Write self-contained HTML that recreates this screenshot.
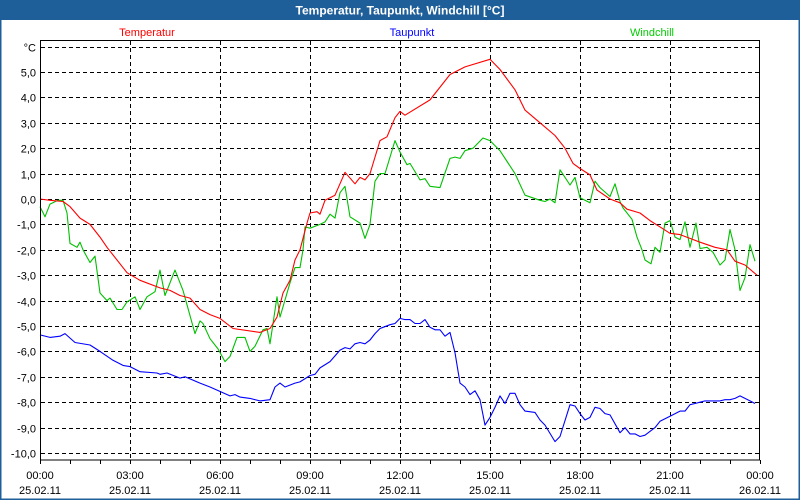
<!DOCTYPE html>
<html><head><meta charset="utf-8"><style>
html,body{margin:0;padding:0;background:#fff}
svg{display:block;font-family:"Liberation Sans",sans-serif}
</style></head><body>
<svg id="chart" width="800" height="500" viewBox="0 0 800 500" xmlns="http://www.w3.org/2000/svg">
<rect x="0" y="0" width="800" height="500" fill="#fff"/>
<rect x="0.5" y="0.5" width="799" height="499" fill="none" stroke="#1f5f99" stroke-width="2"/>
<rect x="0" y="0" width="800" height="20" fill="#1f5f99"/>
<text x="400" y="14.5" text-anchor="middle" fill="#fff" font-weight="bold" font-size="12">Temperatur, Taupunkt, Windchill [°C]</text>
<text x="147" y="36" text-anchor="middle" fill="#ff0000" font-size="11">Temperatur</text>
<text x="412" y="36" text-anchor="middle" fill="#0000ff" font-size="11">Taupunkt</text>
<text x="652" y="36" text-anchor="middle" fill="#00cc00" font-size="11">Windchill</text>
<g id="grid"></g>
<g id="series"></g>
<rect x="40.5" y="40.5" width="719" height="419.5" fill="none" stroke="#000" stroke-width="1"/>
<g id="axes"></g>
</svg>
<script>
const yTicks = [6,5,4,3,2,1,0,-1,-2,-3,-4,-5,-6,-7,-8,-9,-10];
const yTickLabels = ["°C","5,0","4,0","3,0","2,0","1,0","0,0","-1,0","-2,0","-3,0","-4,0","-5,0","-6,0","-7,0","-8,0","-9,0","-10,0"];
const xTickMinutes = [0,180,360,540,720,900,1080,1260,1440];
const xTimeLabels = ["00:00","03:00","06:00","09:00","12:00","15:00","18:00","21:00","00:00"];
const xDateLabels = ["25.02.11","25.02.11","25.02.11","25.02.11","25.02.11","25.02.11","25.02.11","25.02.11","26.02.11"];

const tempMinutes = [0,20,46,60,80,100,120,134,174,200,240,260,280,300,320,340,360,386,440,460,474,486,500,510,520,534,540,554,560,570,590,610,630,640,650,660,680,694,710,720,730,780,820,850,900,920,950,970,1000,1030,1050,1066,1080,1100,1114,1140,1160,1174,1200,1220,1244,1260,1280,1300,1320,1350,1374,1390,1410,1434];
const tempValues = [0,-0.05,-0.1,-0.3,-0.75,-1.0,-1.5,-1.9,-2.9,-3.2,-3.5,-3.6,-3.8,-3.9,-4.35,-4.55,-4.7,-5.1,-5.25,-5.1,-4.65,-3.7,-3.2,-2.4,-2.0,-0.95,-0.55,-0.5,-0.6,-0.05,0.15,1.05,0.6,0.85,0.75,1.0,2.3,2.45,3.2,3.45,3.3,3.9,4.9,5.2,5.5,5.1,4.3,3.5,3.0,2.5,2.0,1.4,1.2,0.95,0.35,0.0,-0.15,-0.4,-0.55,-0.85,-1.15,-1.35,-1.4,-1.55,-1.7,-1.9,-2.0,-2.45,-2.6,-3.0];

const chillMinutes = [0,10,20,36,46,54,60,74,80,86,100,110,120,134,140,154,164,174,190,200,214,230,240,250,270,286,310,320,326,340,356,370,380,394,410,420,430,446,454,460,474,480,500,510,520,526,530,540,560,570,580,590,600,610,620,640,650,660,670,680,690,710,720,734,740,760,770,780,800,820,830,840,850,866,886,900,920,950,970,1000,1010,1020,1030,1040,1060,1070,1080,1100,1110,1120,1140,1150,1160,1166,1184,1194,1204,1210,1222,1230,1240,1250,1260,1270,1280,1290,1300,1312,1320,1334,1346,1360,1370,1380,1390,1400,1410,1420,1430];
const chillValues = [-0.3,-0.7,-0.2,-0.05,-0.05,-0.55,-1.75,-1.9,-1.7,-2.0,-2.5,-2.25,-3.7,-4.0,-3.9,-4.35,-4.35,-4.05,-3.85,-4.35,-3.85,-3.65,-2.8,-3.8,-2.8,-3.6,-5.3,-4.8,-4.9,-5.5,-5.9,-6.4,-6.2,-5.45,-5.45,-6.0,-5.8,-5.15,-5.1,-5.7,-3.85,-4.65,-3.3,-2.7,-2.7,-2.0,-1.1,-1.15,-1.0,-0.9,-0.6,-0.75,0.25,0.5,-0.7,-0.95,-1.55,-1.0,0.7,1.0,1.0,2.3,1.85,1.35,1.4,0.75,0.8,0.5,0.45,1.6,1.65,1.6,1.9,2.0,2.4,2.3,1.9,1.0,0.15,-0.05,-0.1,0,-0.15,1.15,0.55,0.85,0.05,-0.15,0.7,0.45,0.1,0.6,-0.1,-0.35,-0.8,-1.5,-2.0,-2.4,-2.55,-1.9,-2.1,-0.95,-0.85,-1.5,-1.6,-0.9,-1.9,-0.95,-1.95,-1.9,-2.1,-2.6,-2.4,-1.2,-2.0,-3.6,-3.1,-1.8,-2.45];

const dewMinutes = [0,20,40,50,70,100,120,146,166,180,200,234,240,254,280,290,320,340,380,390,400,420,440,460,470,480,490,510,520,540,550,560,580,600,610,620,630,640,650,660,670,680,700,710,720,730,740,750,760,770,780,790,800,810,820,830,840,850,860,870,880,890,900,910,920,930,940,950,960,970,990,1000,1010,1030,1040,1060,1070,1080,1090,1100,1110,1120,1130,1140,1160,1170,1180,1190,1200,1210,1230,1240,1260,1280,1290,1300,1310,1320,1330,1360,1370,1380,1390,1400,1410,1420,1430];
const dewValues = [-5.35,-5.45,-5.4,-5.3,-5.65,-5.75,-6.0,-6.35,-6.55,-6.6,-6.8,-6.85,-6.9,-6.85,-7.05,-7.0,-7.25,-7.4,-7.75,-7.7,-7.8,-7.85,-7.95,-7.9,-7.4,-7.25,-7.4,-7.25,-7.2,-6.95,-6.9,-6.65,-6.4,-5.95,-5.85,-5.9,-5.7,-5.65,-5.7,-5.55,-5.3,-5.1,-4.95,-4.9,-4.7,-4.75,-4.75,-4.9,-4.9,-4.75,-5.05,-5.15,-5.15,-5.4,-5.25,-6.05,-7.25,-7.4,-7.7,-7.55,-7.9,-8.9,-8.6,-8.2,-7.75,-8.05,-7.65,-7.65,-8.1,-8.35,-8.4,-8.7,-8.9,-9.55,-9.35,-8.1,-8.15,-8.45,-8.7,-8.6,-8.2,-8.25,-8.45,-8.5,-9.2,-9.0,-9.25,-9.25,-9.35,-9.3,-9.0,-8.75,-8.55,-8.35,-8.35,-8.1,-8.05,-8.0,-7.95,-7.95,-7.9,-7.9,-7.85,-7.75,-7.85,-7.95,-8.05];

const NS = "http://www.w3.org/2000/svg";
function xScale(m){ return 40 + m * 0.5; }
function yScale(v){ return 199 - v * 25.4; }
function mk(tag, attrs){ const e = document.createElementNS(NS, tag); for (const k in attrs) e.setAttribute(k, attrs[k]); return e; }

const grid = document.getElementById('grid');
const axes = document.getElementById('axes');
yTicks.forEach((v, i) => {
  const y = Math.round(yScale(v)) + 0.5;
  const l = mk('line', {x1: 41, x2: 759, y1: y, y2: y, stroke: '#000', 'stroke-dasharray': '4,3'});
  
  
  grid.appendChild(l);
  const t = mk('text', {x: 36, y: y + 4, 'text-anchor': 'end', 'font-size': 11, fill: '#000'});
  t.textContent = yTickLabels[i];
  
  
  axes.appendChild(t);
});
xTickMinutes.forEach((m, i) => {
  const x = Math.round(xScale(m)) + 0.5;
  if (i > 0 && i < xTickMinutes.length - 1) {
    const l = mk('line', {x1: x, x2: x, y1: 41, y2: 460, stroke: '#000', 'stroke-dasharray': '4,3'});
    
    
    grid.appendChild(l);
  }
  const t1 = mk('text', {x: xScale(m), y: 479, 'text-anchor': 'middle', 'font-size': 11, fill: '#000'});
  t1.textContent = xTimeLabels[i];
  
  
  axes.appendChild(t1);
  const t2 = mk('text', {x: xScale(m), y: 494, 'text-anchor': 'middle', 'font-size': 11, fill: '#000'});
  t2.textContent = xDateLabels[i];
  
  
  axes.appendChild(t2);
});
for (let h = 0; h <= 24; h++) {
  const x = Math.round(xScale(h * 60)) + 0.5;
  const l = mk('line', {x1: x, x2: x, y1: 460, y2: 464, stroke: '#000'});
  
  
  axes.appendChild(l);
}

const series = document.getElementById('series');
function drawLine(ms, vs, color, name){
  const pts = ms.map((m, i) => xScale(m).toFixed(1) + ',' + yScale(vs[i]).toFixed(1)).join(' ');
  const p = mk('polyline', {points: pts, fill: 'none', stroke: color, 'stroke-width': 1.1, 'stroke-linejoin': 'round'});
  
  
  series.appendChild(p);
}
drawLine(dewMinutes, dewValues, '#0000ff', 'taupunkt-line');
drawLine(chillMinutes, chillValues, '#00c000', 'windchill-line');
drawLine(tempMinutes, tempValues, '#ff0000', 'temperatur-line');
</script>
</body></html>
